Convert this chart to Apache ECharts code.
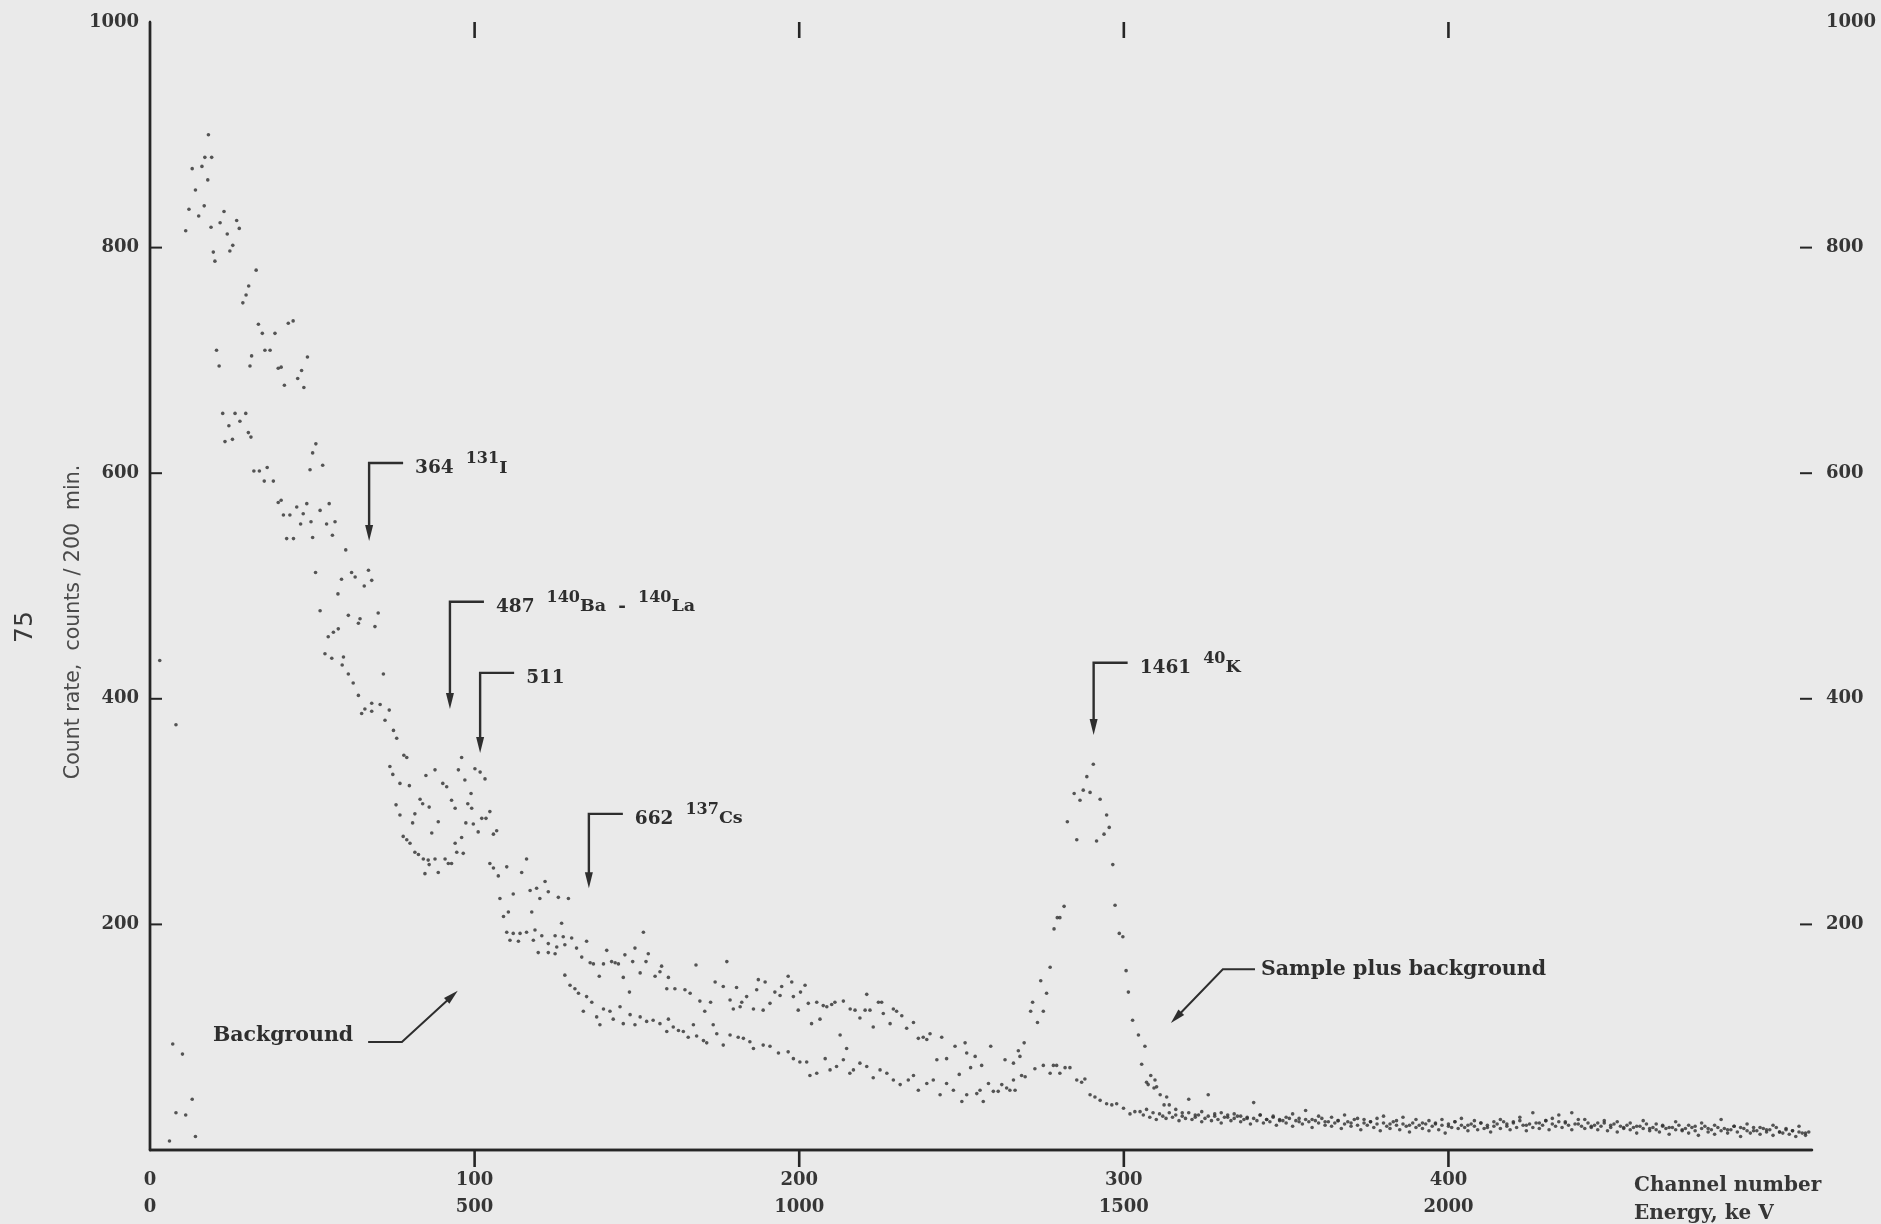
<!DOCTYPE html>
<html>
<head>
<meta charset="utf-8">
<title>Gamma spectrum: sample plus background vs background</title>
<script src="https://cdn.jsdelivr.net/npm/echarts@6/dist/echarts.min.js"></script>
<style>
  html, body { margin: 0; padding: 0; background: #eaeaea; }
  #chart { width: 1881px; height: 1224px; }
</style>
</head>
<body>
<div id="chart"></div>
<script>
// ---- axis ticks -------------------------------------------------------
const channelTicks = [0, 100, 200, 300, 400];
const energyTicks = [0, 500, 1000, 1500, 2000];   // keV, 5 keV per channel
const countTicks = [200, 400, 600, 800, 1000];

// ---- sample plus background: [channel, counts / 200 min] --------------
const samplePoints = [
  [3,434],[8,377],[10,85],[13,45],
  [13,870],[14,851],[16,872],[16.9,880],[17.8,860],[18,900],[19,880],
  [21.6,822],[22.8,832],[23.8,812],[25.5,802],[26.7,824],[27.5,817],[28.6,751],[29.6,758],[30.4,766],
  [32.7,780],[33.4,732],[34.6,724],[37,709],[38.5,724],[40.4,694],[42.6,733],[44.1,735],[45.5,684],
  [46.7,691],[47.4,676],[48.5,703],[50.1,618],[51.1,626],[53.2,607],[55.2,573],[57,557],[60.3,532],
  [62.1,512],[63.2,508],[67.3,514],[68.3,505],
  [61.1,474],[64.7,471],[69.3,464],[70.3,476],[71.9,422],[72.4,381],[73.7,390],[75,372],[76,365],
  [78.2,350],[79.1,348],[83.2,311],[84,307],[85,332],[86,304],[87.8,337],[88.8,291],[90.2,325],
  [91.4,322],[92.9,310],[94,303],[95,337],[96,348],[97,328],[97.3,290],[97.9,307],[98.9,316],
  [99.1,303],[99.6,289],[100.1,338],[101.1,282],[101.7,335],[102.2,294],[103.2,329],[103.5,294],
  [104.7,300],[105.8,280],[106.8,283],
  [107.8,223],[108.9,207],[109.9,251],[110.4,211],[111.9,227],[114.5,246],[116,258],[117.1,230],
  [117.6,211],[119.1,232],[120.1,223],[121.7,238],[122.7,229],[125.8,224],[126.8,201],[127.8,182],
  [128.9,223],[129.9,188],[131.4,179],[133,171],[134.5,185],[135.6,166],[136.6,165],[138.4,154],
  [139.7,165],[140.7,177],[142.2,167],[143.3,166],[144.3,165],[145.8,153],[146.3,173],[147.7,140],
  [148.7,167],[149.4,179],[151,157],[152,193],[152.8,167],[153.5,174],[155.6,154],[157.1,158],
  [157.6,163],[159.2,143],[159.7,153],[161.7,143],[164.8,142],[166.4,139],[168.2,164],[169.4,132],
  [170.9,123],[172.7,131],[174.1,149],[176.6,145],[177.7,167],[178.7,133],[179.7,125],[180.7,144],
  [181.8,127],[182.3,131],[183.8,136],[185.9,125],[186.9,142],[187.4,151],[188.9,124],[189.5,149],
  [191,130],[192.5,140],[194.1,137],[194.6,145],[196.6,154],[197.7,149],[198.2,136],[199.7,124],
  [200.4,140],[201.8,146],[202.8,130],[203.8,112],[205.4,131],[206.4,116],[207.4,128],[208.5,127],
  [210,129],[211,131],[212.6,102],[213.6,132],[214.6,90],[215.7,125],[217.2,124],[218.7,117],
  [220.3,124],[220.8,138],[221.8,124],[222.8,109],[224.4,131],[225.4,131],[225.9,121],[228,112],
  [229,125],[230,123],[231.6,119],[233.1,108],[235.2,113],[236.7,99],[238.2,100],[239.3,98],
  [240.3,103],[242.4,80],[243.9,100],[245.4,81],[248,92],[249.3,67],[251.1,95],[251.6,86],
  [252.8,73],[254.2,83],[256.2,75],[259,92],[263.4,80],[266,77],[267.5,88],[268,83],[269.3,95],
  [271.3,123],[271.9,131],[273.4,113],[274.4,150],[275.2,123],[276.2,139],[277.3,162],[278.5,196],
  [279.5,206],[280.3,206],[281.6,216],[282.6,291],[284.7,316],[285.5,275],[286.5,310],[287.5,319],
  [288.6,331],[289.6,317],[290.6,342],[291.6,274],[292.7,311],[293.9,280],[294.7,297],[295.5,286],
  [296.6,253],[297.3,217],[298.6,192],[299.7,189],[300.7,159],[301.4,140],[302.7,115],[304.5,102],
  [305.5,76],[306.5,92],[307,60],[307.5,58],[308.3,66],[309.3,55],[309.6,62],[310.1,56],[311.2,49],
  [312.4,40],[313.2,47],[314,40]
];
// every second channel from 316 to 510
const sampleTailStart = 316;
const sampleTailCounts = [
  36,33,45,31,34,49,30,33,29,32,
  30,28,42,31,27,30,26,29,32,28,
  35,27,30,25,29,26,31,24,28,27,
  25,28,30,23,26,29,22,27,24,26,
  23,27,21,25,28,22,26,24,20,25,
  27,23,25,29,22,33,24,26,28,31,
  25,33,23,27,21,24,26,22,25,20,
  24,21,26,19,23,22,20,25,18,22,
  21,24,19,22,27,18,21,20,23,17,
  20,18,22,16,19,17,21,15
];

// ---- background: [channel, counts / 200 min] --------------------------
const backgroundPoints = [
  [6,8],[7,94],[8,33],[11,31],[14,12],
  [11,815],[12,834],[15,828],[16.7,837],[18.8,818],[19.5,796],[20,788],[20.5,709],[21.3,695],
  [22.4,653],[23.1,628],[24.3,642],[24.6,797],[25.4,630],[26.2,653],[27.7,646],[29.5,653],
  [30.3,636],[30.8,695],[31.1,632],[31.3,704],[32,602],[33.7,602],[35.2,593],[35.4,709],
  [36.1,605],[38,593],[39.5,693],[39.5,574],[40.4,576],[41.1,563],[41.4,678],[42.1,542],
  [43.1,563],[44.2,542],[45.2,570],[46.4,555],[47.2,564],[48.3,573],[49.3,603],[49.6,557],
  [50.1,543],[51,512],[52.4,567],[54.4,555],[56.2,545],[57.9,493],[59,506],[66,500],
  [52.4,478],[53.9,440],[54.9,455],[56,436],[56.5,459],[58,462],[59.2,430],[59.6,437],[61.1,422],
  [62.6,414],[64.2,467],[64.2,403],[65.2,387],[66.2,391],[68.3,396],[68.3,389],[70.9,395],
  [73.9,340],[74.8,333],[75.8,306],[77,325],[77,297],[78,278],[79.1,275],[79.9,323],[80.1,272],
  [80.9,290],[81.6,298],[81.6,264],[82.7,262],[84.2,258],[84.7,245],[85.7,257],[86,253],
  [86.8,281],[87.8,258],[88.8,246],[90.9,258],[91.9,254],[92.9,254],[94,272],[94.5,264],[96,277],
  [96.5,263],[104.7,254],[105.8,250],[107.3,243],
  [109.9,193],[110.9,186],[111.9,192],[113.5,185],[114,192],[116,193],[118.1,186],[118.6,195],
  [119.6,175],[120.7,190],[122.7,183],[122.7,175],[124.8,190],[124.8,174],[125.3,180],[127.3,189],
  [127.8,155],[129.4,146],[130.9,143],[132,139],[133.5,123],[134.5,136],[136.1,131],[137.6,118],
  [138.6,111],[139.7,125],[141.7,123],[142.7,116],[144.8,127],[145.8,112],[147.9,120],[149.4,111],
  [151,118],[153,114],[155,115],[157.1,112],[159.2,105],[159.7,116],[161.2,109],[162.8,106],
  [164.3,105],[165.8,100],[167.4,111],[168.4,101],[170.5,97],[171.5,95],[173.5,111],[174.6,103],
  [176.6,93],[178.7,102],[181.2,100],[182.8,99],[184.8,96],[185.9,90],[188.9,93],[191,92],
  [193.6,86],[196.6,87],[198.2,81],[200.2,78],[202.3,78],[203.3,66],[205.4,68],[208,81],
  [209.5,71],[211.5,74],[213.6,80],[215.6,68],[216.7,71],[218.7,77],[220.8,74],[222.8,64],
  [224.9,71],[227,68],[229,62],[231.1,58],[233.6,62],[235.2,66],[236.7,53],[239.3,59],[241.3,62],
  [243.4,49],[245.4,59],[247.5,53],[250.1,43],[251.6,49],[254.7,50],[255.7,53],[256.7,43],
  [258.3,59],[259.8,52],[261.3,52],[262.4,58],[263.9,55],[264.9,53],[266,62],[266.5,53],
  [268.5,66],[269.6,65],[272.6,72],[275.2,75],[277.3,68],[278.3,75],[279.3,75],[280.3,68],
  [281.9,73],[283.4,73],[285.5,62],[287,60],[288,63],[289.6,49],[291.1,47],[292.7,44],[294.7,41],
  [296.3,40],[297.8,41],[299.9,37],[301.9,32],[303.4,34]
];
// every channel from 305 to 511
const backgroundTailStart = 305;
const backgroundTailCounts = [
  34,31,36,29,33,27,32,30,28,33,
  29,31,26,30,28,33,27,29,31,25,
  28,30,26,32,27,24,29,31,26,28,
  30,25,27,29,23,28,26,31,24,27,
  25,29,22,27,26,24,28,21,26,25,
  23,27,25,20,26,24,28,22,25,21,
  24,26,19,23,25,21,27,22,18,24,
  22,25,20,23,17,24,21,19,25,22,
  18,23,21,16,24,20,22,19,23,17,
  21,24,18,22,15,23,20,25,19,22,
  20,17,23,21,18,24,19,22,16,21,
  23,19,25,21,18,24,20,26,22,17,
  23,20,24,19,22,26,18,23,21,25,
  20,24,22,18,23,27,21,19,24,20,
  22,18,21,24,17,20,23,16,21,19,
  22,18,20,15,21,19,23,17,20,18,
  16,21,19,14,20,18,22,17,19,15,
  20,17,13,19,21,16,18,14,20,17,
  19,15,18,21,16,12,19,17,15,20,
  17,14,19,16,18,13,20,16,15,18,
  14,17,12,16,15,13,16
];

// ---- peak markers (channel of arrow, count at arrow top, count at arrow tip)
const peakChannels = [67.5, 92.4, 101.7, 135.2, 290.7];
const peakArrowTops = [609, 486, 423, 298, 432];
const peakArrowTips = [540, 391, 352, 232, 368];
const peakLabels = [
  '{n|364}{g|}{s|131}{e|I}',
  '{n|487}{g|}{s|140}{e|Ba}{d|-}{s|140}{e|La}',
  '{n|511}',
  '{n|662}{g|}{s|137}{e|Cs}',
  '{n|1461}{g|}{s|40}{e|K}'
];

// ---- curve leaders: label, then polyline in [channel, count]
const curveLabels = ['Background', 'Sample plus background'];
const curveLeaders = [
  [[67.2, 95.7], [77.6, 95.7], [94.8, 141.2]],
  [[340.4, 160.3], [330.5, 160.3], [314.5, 112.5]]
];

// ---- build series data
const sampleData = samplePoints.concat(
  sampleTailCounts.map((c, i) => [sampleTailStart + 2 * i, c]));
const backgroundData = backgroundPoints.concat(
  backgroundTailCounts.map((c, i) => [backgroundTailStart + i, c]));

const ink = '#2e2e2e';
const frame = '#262626';
const serif = '"DejaVu Serif", "Liberation Serif", serif';
const CH_MAX = 512, COUNT_MAX = 1000;

const labelRich = {
  n: { fontFamily: serif, fontWeight: 'bold', fontSize: 18.5, lineHeight: 34, fill: ink },
  e: { fontFamily: serif, fontWeight: 'bold', fontSize: 17.5, lineHeight: 34, fill: ink },
  s: { fontFamily: serif, fontWeight: 'bold', fontSize: 16, lineHeight: 16, padding: [0, 0, 18, 0], fill: ink },
  d: { fontFamily: serif, fontWeight: 'bold', fontSize: 18.5, lineHeight: 34, width: 32, align: 'center', fill: ink },
  g: { width: 12, lineHeight: 34 }
};

function arrowHead(tip, from, len, half) {
  const dx = tip[0] - from[0], dy = tip[1] - from[1];
  const d = Math.sqrt(dx * dx + dy * dy) || 1;
  const ux = dx / d, uy = dy / d;
  const bx = tip[0] - ux * len, by = tip[1] - uy * len;
  return [[bx - uy * half, by + ux * half], [bx + uy * half, by - ux * half], tip];
}

function renderPeak(params, api) {
  const i = params.dataIndex;
  const top = api.coord([api.value(0), api.value(1)]);
  const tip = api.coord([api.value(0), api.value(2)]);
  const arm = 34;
  return {
    type: 'group',
    children: [
      { type: 'polyline',
        shape: { points: [[top[0] + arm, top[1]], top, [tip[0], tip[1] - 10]] },
        style: { stroke: ink, lineWidth: 2.4, fill: null } },
      { type: 'polygon',
        shape: { points: arrowHead(tip, top, 16, 4) },
        style: { fill: ink } },
      { type: 'text', x: top[0] + arm + 12, y: top[1] + 5,
        style: { text: peakLabels[i], rich: labelRich, align: 'left', verticalAlign: 'middle' } }
    ]
  };
}

function renderLeader(params, api) {
  const i = params.dataIndex;
  const pts = curveLeaders[i].map(p => api.coord(p));
  const tip = pts[pts.length - 1];
  const prev = pts[pts.length - 2];
  const head = arrowHead(tip, prev, 15, 4);
  const text = i === 0
    ? { x: pts[0][0] - 15, y: pts[0][1] - 6, align: 'right' }
    : { x: pts[0][0] + 6, y: pts[0][1], align: 'left' };
  return {
    type: 'group',
    children: [
      { type: 'polyline',
        shape: { points: pts.slice(0, -1).concat([[tip[0] - (tip[0] - prev[0]) * 0.15, tip[1] - (tip[1] - prev[1]) * 0.15]]) },
        style: { stroke: ink, lineWidth: 2, fill: null } },
      { type: 'polygon', shape: { points: head }, style: { fill: ink } },
      { type: 'text', x: text.x, y: text.y,
        style: { text: curveLabels[i], fontFamily: serif, fontWeight: 'bold', fontSize: 20.5,
                 fill: ink, align: text.align, verticalAlign: 'middle' } }
    ]
  };
}

const axisText = { fontFamily: serif, fontWeight: 'bold', fontSize: 18, color: '#363636' };
const axisLine = { show: true, lineStyle: { color: frame, width: 2.4 } };

const chart = echarts.init(document.getElementById('chart'), null, { renderer: 'canvas' });
chart.setOption({
  backgroundColor: '#eaeaea',
  animation: false,
  grid: { left: 150, right: 69, top: 22, bottom: 74 },
  xAxis: [
    {
      type: 'value', position: 'bottom', min: 0, max: CH_MAX, interval: 100,
      axisLine: axisLine,
      axisTick: { show: false },
      axisLabel: {
        ...axisText, margin: 17, lineHeight: 27, customValues: channelTicks,
        formatter: v => {
          const i = channelTicks.indexOf(v);
          return i < 0 ? '' : channelTicks[i] + '\n' + energyTicks[i];
        }
      },
      splitLine: { show: false }
    },
    {
      type: 'value', position: 'top', min: 0, max: CH_MAX, interval: 100,
      axisLine: axisLine,
      axisTick: { show: false },
      axisLabel: { show: false },
      splitLine: { show: false }
    }
  ],
  yAxis: [
    {
      type: 'value', position: 'left', min: 0, max: COUNT_MAX, interval: 200,
      axisLine: axisLine,
      axisTick: { show: false },
      axisLabel: { ...axisText, margin: 11, customValues: countTicks, formatter: v => String(v) },
      splitLine: { show: false }
    },
    {
      type: 'value', position: 'right', min: 0, max: COUNT_MAX, interval: 200,
      axisLine: axisLine,
      axisTick: { show: false },
      axisLabel: { ...axisText, margin: 14, customValues: countTicks, formatter: v => String(v) },
      splitLine: { show: false }
    }
  ],
  series: [
    {
      name: 'Sample plus background', type: 'scatter', data: sampleData,
      symbol: 'circle', symbolSize: 3.6, itemStyle: { color: ink }, silent: true
    },
    {
      name: 'Background', type: 'scatter', data: backgroundData,
      symbol: 'circle', symbolSize: 3.6, itemStyle: { color: ink }, silent: true
    },
    {
      name: 'Peaks', type: 'custom', renderItem: renderPeak, silent: true, clip: false, z: 5,
      data: peakChannels.map((c, i) => [c, peakArrowTops[i], peakArrowTips[i]])
    },
    {
      name: 'Leaders', type: 'custom', renderItem: renderLeader, silent: true, clip: false, z: 5,
      data: curveLeaders.map(l => l[0])
    }
  ]
});

// ---- frame ticks and free text, placed through the grid's own scales
function tickRect(x, y, w, h) {
  return { type: 'rect', silent: true, z: 100, zlevel: 1,
           shape: { x: x, y: y, width: w, height: h },
           style: { fill: frame } };
}
const toPx = p => chart.convertToPixel({ gridIndex: 0 }, p);
const frameLeft = toPx([0, COUNT_MAX])[0];
const frameRight = toPx([CH_MAX, COUNT_MAX])[0];
const frameTop = toPx([CH_MAX, COUNT_MAX])[1];
const frameBottom = toPx([CH_MAX, 0])[1];
const frameTicks = [];
channelTicks.slice(1).forEach(v => {
  const x = toPx([v, COUNT_MAX])[0];
  frameTicks.push(tickRect(x - 1.3, frameBottom, 2.6, 17));   // bottom, outward
  frameTicks.push(tickRect(x - 1.3, frameTop, 2.6, 16));      // top, inward
});
countTicks.slice(0, 4).forEach(v => {
  const y = toPx([CH_MAX, v])[1];
  frameTicks.push(tickRect(frameLeft, y - 1, 12, 2));         // left, inward
  frameTicks.push(tickRect(frameRight - 12, y - 1, 12, 2));   // right, inward
});

chart.setOption({
  graphic: [
    { type: 'text', x: 74, y: 622, rotation: Math.PI / 2,
      style: { text: 'Count rate,  counts / 200  min.', fontFamily: '"DejaVu Sans", sans-serif',
               fontSize: 20.5, fill: '#4a4a4a', align: 'center', verticalAlign: 'middle' } },
    { type: 'text', x: 25, y: 627, rotation: Math.PI / 2,
      style: { text: '75', fontFamily: '"DejaVu Sans", sans-serif', fontSize: 25,
               fill: '#3a3a3a', align: 'center', verticalAlign: 'middle' } },
    { type: 'text', x: 1634, y: 1186,
      style: { text: 'Channel number', fontFamily: serif, fontWeight: 'bold', fontSize: 20,
               fill: '#363636', align: 'left', verticalAlign: 'middle' } },
    { type: 'text', x: 1634, y: 1214,
      style: { text: 'Energy, ke V', fontFamily: serif, fontWeight: 'bold', fontSize: 20,
               fill: '#363636', align: 'left', verticalAlign: 'middle' } }
  ].concat(frameTicks)
});
</script>
</body>
</html>
